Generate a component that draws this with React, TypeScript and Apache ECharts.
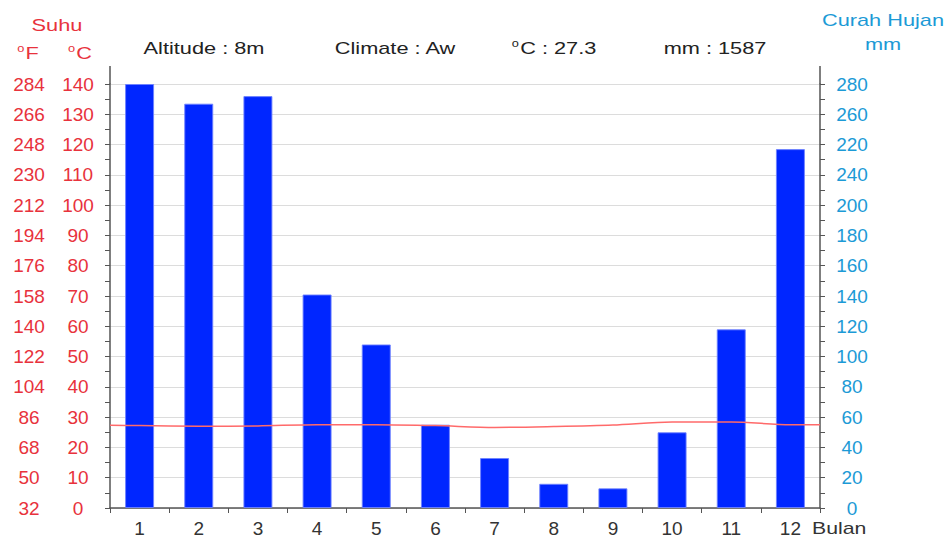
import React, { useEffect, useRef } from "react";
import * as echarts from "echarts";

const months = ["1", "2", "3", "4", "5", "6", "7", "8", "9", "10", "11", "12"];
const rainfall = [280, 267, 272, 141, 108, 55, 33, 16, 13, 50, 118, 237];
const temperature = [27.2, 27.0, 27.1, 27.5, 27.5, 27.2, 26.6, 26.9, 27.4, 28.4, 28.4, 27.5];
const tempLeftEdge = 27.3;
const tempRightEdge = 27.5;
const fahrenheitTickLabels = ["32", "50", "68", "86", "104", "122", "140", "158", "176", "194", "212", "230", "248", "266", "284"];
const rainTickLabels = ["0", "20", "40", "60", "80", "100", "120", "140", "160", "180", "200", "240", "220", "260", "280"];

const FONT = "'Liberation Sans', Arial, sans-serif";
const RED = "#e8323c";
const BLUE = "#1c9ad6";
const DARK = "#222";
const AXIS = "#555";

export default function App() {
  const ref = useRef<HTMLDivElement>(null);
  useEffect(() => {
    if (!ref.current) return;
    const chart = echarts.init(ref.current, null, { renderer: "svg" });

    const lineData: number[][] = [[0, tempLeftEdge]];
    temperature.forEach((t, i) => lineData.push([i + 0.5, t]));
    lineData.push([months.length, tempRightEdge]);

    const headText = (text: string, x: number, y: number, color: string) => ({
      type: "text",
      x,
      y,
      scaleX: 1.28,
      z: 10,
      style: {
        text,
        fill: color,
        font: `17px ${FONT}`,
        align: "center",
        verticalAlign: "middle",
        rich: {
          s: { fontSize: 10, fontFamily: FONT, fill: color, padding: [0, 1, 9, 0] },
          n: { fontSize: 17, fontFamily: FONT, fill: color },
        },
      },
    });

    chart.setOption({
      animation: false,
      backgroundColor: "#fff",
      grid: { left: 110, right: 128, top: 84, bottom: 27, containLabel: false },
      graphic: [
        { type: "line", shape: { x1: 110, y1: 66, x2: 110, y2: 84 }, style: { stroke: AXIS, lineWidth: 1.5 } },
        { type: "line", shape: { x1: 820, y1: 66, x2: 820, y2: 84 }, style: { stroke: AXIS, lineWidth: 1.5 } },
        headText("Altitude : 8m", 204, 48, DARK),
        headText("Climate : Aw", 395, 48, DARK),
        headText("{s|o}{n|C : 27.3}", 554, 48, DARK),
        headText("mm : 1587", 715, 48, DARK),
        headText("Suhu", 57, 25, RED),
        headText("{s|o}{n|F}", 28, 53, RED),
        headText("{s|o}{n|C}", 80, 53, RED),
        headText("Curah Hujan", 883, 20, BLUE),
        headText("mm", 883, 44, BLUE),
        {
          type: "text",
          x: 812,
          y: 528,
          scaleX: 1.25,
          style: { text: "Bulan", fill: "#333", font: `17px ${FONT}`, align: "left", verticalAlign: "middle" },
        },
      ],
      xAxis: [
        {
          type: "category",
          data: months,
          boundaryGap: true,
          axisLine: { show: true, lineStyle: { color: AXIS, width: 1.5 } },
          axisTick: { show: true, length: 5, lineStyle: { color: AXIS } },
          axisLabel: { color: "#333", fontSize: 19, fontFamily: FONT, margin: 11 },
          splitLine: { show: false },
        },
        { type: "value", min: 0, max: months.length, show: false },
      ],
      yAxis: [
        {
          type: "value",
          position: "left",
          min: 0,
          max: 140,
          interval: 10,
          axisLine: { show: true, lineStyle: { color: AXIS, width: 1.5 } },
          axisTick: { show: true, length: 5, lineStyle: { color: AXIS } },
          minorTick: { show: true, splitNumber: 2, length: 5, lineStyle: { color: AXIS } },
          axisLabel: { color: RED, fontSize: 19, fontFamily: FONT, align: "center", margin: 32 },
          splitLine: { show: true, lineStyle: { color: "#dcdcdc", width: 1 } },
        },
        {
          type: "value",
          position: "left",
          min: 0,
          max: 140,
          interval: 10,
          axisLine: { show: false },
          axisTick: { show: false },
          axisLabel: {
            color: RED,
            fontSize: 19,
            fontFamily: FONT,
            align: "center",
            margin: 81,
            formatter: (v: number) => fahrenheitTickLabels[Math.round(v / 10)] ?? "",
          },
          splitLine: { show: false },
        },
        {
          type: "value",
          position: "right",
          min: 0,
          max: 280,
          interval: 20,
          axisLine: { show: true, lineStyle: { color: AXIS, width: 1.5 } },
          axisTick: { show: true, length: 5, lineStyle: { color: AXIS } },
          minorTick: { show: true, splitNumber: 2, length: 5, lineStyle: { color: AXIS } },
          axisLabel: {
            color: BLUE,
            fontSize: 19,
            fontFamily: FONT,
            align: "center",
            margin: 32,
            formatter: (v: number) => rainTickLabels[Math.round(v / 20)] ?? "",
          },
          splitLine: { show: false },
        },
      ],
      series: [
        {
          type: "bar",
          xAxisIndex: 0,
          yAxisIndex: 2,
          data: rainfall,
          barWidth: 29,
          itemStyle: { color: "#0026ff", borderColor: "rgba(110,130,255,0.9)", borderWidth: 1 },
          z: 2,
        },
        {
          type: "line",
          xAxisIndex: 1,
          yAxisIndex: 0,
          data: lineData,
          smooth: 0.3,
          symbol: "none",
          lineStyle: { color: "#ff6a6a", width: 1.5 },
          z: 3,
        },
      ],
    });
    return () => chart.dispose();
  }, []);
  return (
    <div
      ref={ref}
      style={{ position: "fixed", left: 0, top: 0, width: 948, height: 538, background: "#fff" }}
    />
  );
}
